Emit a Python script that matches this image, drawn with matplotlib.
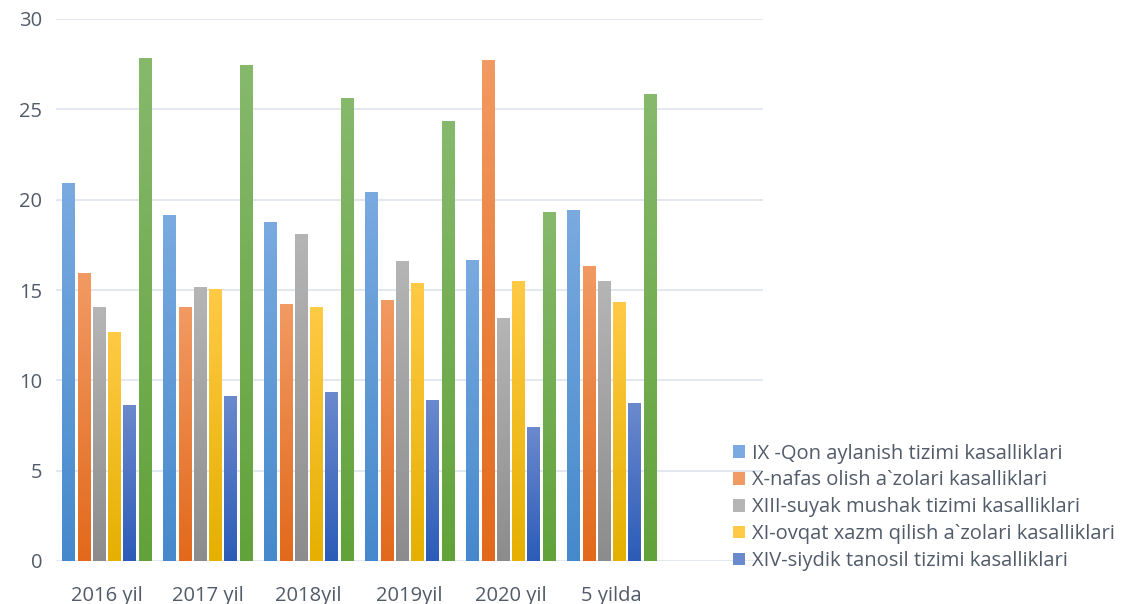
import numpy as np
import matplotlib
matplotlib.use("Agg")
import matplotlib.pyplot as plt
from matplotlib.colors import to_rgb
from matplotlib.patches import Patch

groups = ["2016 yil", "2017 yil", "2018yil", "2019yil", "2020 yil", "5 yilda"]
series_names = [
    "IX -Qon aylanish tizimi kasalliklari",
    "X-nafas olish a`zolari kasalliklari",
    "XIII-suyak mushak tizimi kasalliklari",
    "XI-ovqat xazm qilish a`zolari kasalliklari",
    "XIV-siydik tanosil tizimi kasalliklari",
]
qon = [20.9, 19.1, 18.75, 20.4, 16.65, 19.4]
nafas = [15.9, 14.05, 14.2, 14.4, 27.7, 16.3]
suyak = [14.05, 15.15, 18.05, 16.55, 13.4, 15.45]
ovqat = [12.65, 15.05, 14.05, 15.35, 15.45, 14.3]
siydik = [8.6, 9.1, 9.35, 8.9, 7.4, 8.7]
boshqa = [27.8, 27.4, 25.6, 24.3, 19.3, 25.8]
values = [qon, nafas, suyak, ovqat, siydik, boshqa]

# (top colour, bottom colour) for the gradient fill
colors = [
    ("#7aaae0", "#4589cc"),
    ("#f29a63", "#e2691b"),
    ("#b5b5b5", "#8c8c8c"),
    ("#ffca45", "#e5b000"),
    ("#6b89cd", "#2c5cb8"),
    ("#86b96c", "#62a23a"),
]
txt = "#515b69"

plt.rcParams["font.family"] = ["Open Sans", "DejaVu Sans"]

fig = plt.figure(figsize=(11.45, 6.04), dpi=100)
ax = fig.add_axes([56 / 1145, 1 - 561 / 604, (763 - 56) / 1145, (561 - 19) / 604])

x = np.arange(len(groups))
pitch = 0.151
width = 0.119
for i, (vals, (ctop, cbot)) in enumerate(zip(values, colors)):
    bars = ax.bar(x + (i - 2.5) * pitch, vals, width, color="none", edgecolor="none", zorder=2)
    grad = np.linspace(to_rgb(cbot), to_rgb(ctop), 128)[:, None, :]
    for b in bars:
        x0, h = b.get_x(), b.get_height()
        ax.imshow(grad, extent=[x0, x0 + b.get_width(), 0, h], origin="lower",
                  aspect="auto", interpolation="bilinear", zorder=2)

ax.set_xlim(-0.5, 6.5)
ax.set_ylim(0, 30)
ax.set_yticks(range(0, 31, 5))
ax.set_xticks(x)
ax.set_xticklabels(groups)
ax.yaxis.grid(True, color="#e1e5ee", linewidth=1.3, zorder=0)
ax.set_axisbelow(True)
for s in ax.spines.values():
    s.set_visible(False)
ax.tick_params(axis="both", length=0, labelsize=14.5, colors=txt)
ax.tick_params(axis="x", pad=18)
ax.tick_params(axis="y", pad=10)

handles = [Patch(facecolor=colors[i][0], edgecolor="none") for i in range(5)]
fig.legend(handles, series_names, loc="lower left", bbox_to_anchor=(733 / 1145, 33 / 604),
           frameon=False, fontsize=14.5, labelcolor=txt, handlelength=0.6, handleheight=0.6,
           handletextpad=0.35, labelspacing=0.34, borderaxespad=0, borderpad=0)

fig.savefig("out.png", dpi=100)
